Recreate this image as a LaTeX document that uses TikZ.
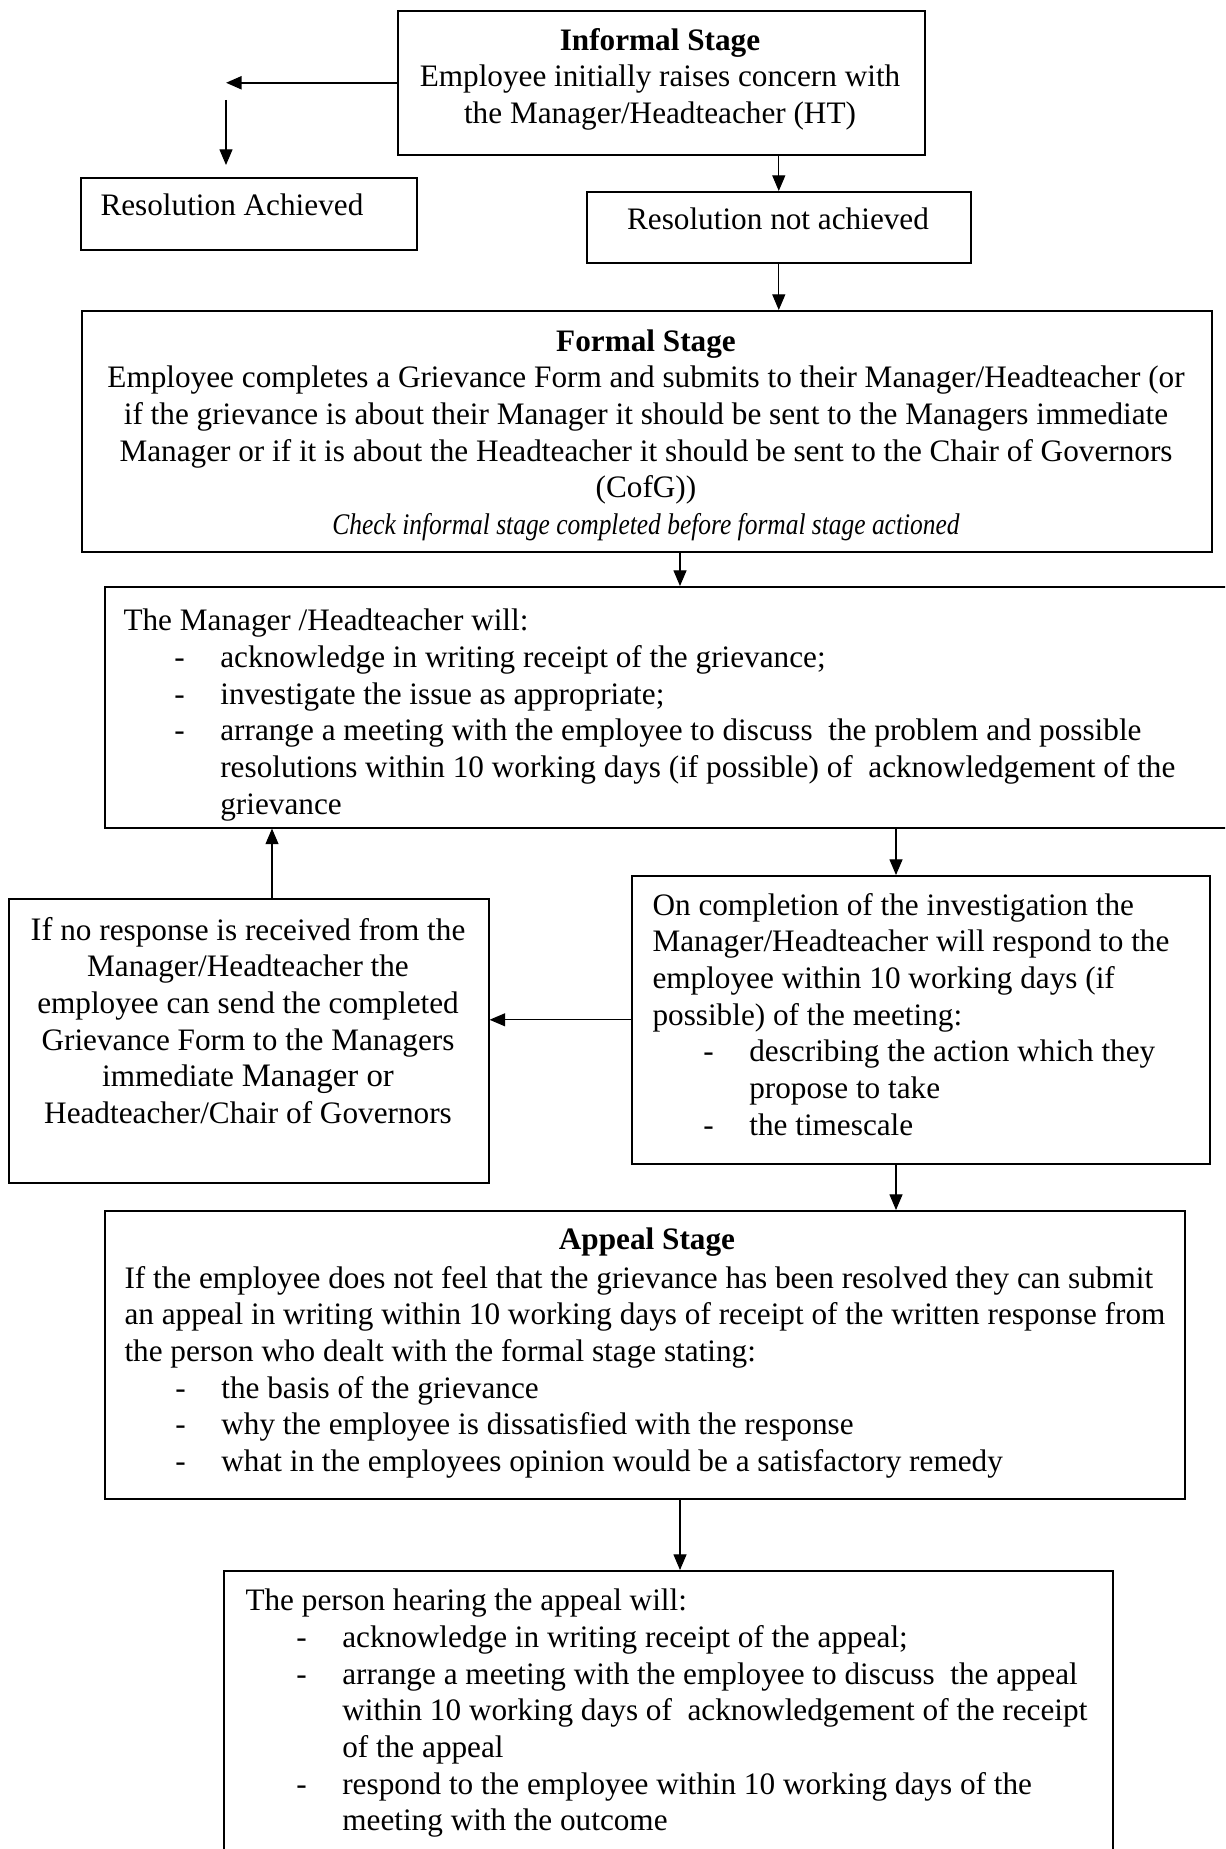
\documentclass[tikz,border=0pt]{standalone}
\usepackage{fontspec}
\usepackage{graphicx}
\setmainfont{Liberation Serif}
\usetikzlibrary{arrows.meta}

\def\pw{0.0135cm}
\newcommand{\dashitem}{\hspace*{19.5pt}\makebox[17.7pt][l]{-}}
\newcommand{\dashcont}{\hspace*{37.2pt}}

\tikzset{
	frame/.style 2 args={draw, line width=0.6pt, inner sep=0pt, anchor=north west,
		minimum width=#1*\pw, minimum height=#2*\pw},
	txt/.style={inner sep=0pt, font=\fontsize{12}{14.1}\selectfont},
	flow/.style={-{Triangle[length=6pt,width=5pt]}, line width=0.4pt},
}

\begin{document}
\begin{tikzpicture}[x=\pw,y=-\pw]
	\fill[white] (0,0) rectangle (1225,1849);
	\useasboundingbox (0,0) rectangle (1225,1849);
	\clip (0,0) rectangle (1225,1849);
	
	% Khung
	\node[frame={527}{144}] (informal) at (397,10) {};
	\node[frame={336}{72}] (resAch) at (80,177) {};
	\node[frame={384}{71}] (resNot) at (586,191) {};
	\node[frame={1130}{241}] (formal) at (81,310) {};
	\node[frame={1152}{241}] (manager) at (104,586) {};
	\node[frame={480}{284}] (noresp) at (8,898) {};
	\node[frame={578}{288}] (complete) at (631,875) {};
	\node[frame={1080}{288}] (appeal) at (104,1210) {};
	\node[frame={889}{330}] (hearing) at (223,1570) {};
	
	% Texts
	\node[txt, align=center, anchor=north] (informalTxt) at (660,27.5)
		{\textbf{Informal Stage}\\Employee initially raises concern with\\the Manager/Headteacher (HT)};
	\node[txt, anchor=west] (resAchTxt) at (100,205) {Resolution Achieved};
	\node[txt] (resNotTxt) at (778,219) {Resolution not achieved};
	\node[txt, align=center, anchor=north] (formalTxt) at (646,329)
		{\textbf{Formal Stage}\\
		Employee completes a Grievance Form and submits to their Manager/Headteacher (or\\
		if the grievance is about their Manager it should be sent to the Managers immediate\\
		Manager or if it is about the Headteacher it should be sent to the Chair of Governors\\
		(CofG))\\
		\scalebox{0.85}[1]{\fontsize{11.5}{14.1}\selectfont\itshape Check informal stage completed before formal stage actioned}};
	\node[txt, align=left, anchor=north west] (managerTxt) at (123,608.5)
		{The Manager /Headteacher will:\\
		\dashitem acknowledge in writing receipt of the grievance;\\
		\dashitem investigate the issue as appropriate;\\
		\dashitem arrange a meeting with the employee to discuss\ \ the problem and possible\\
		\dashcont resolutions within 10 working days (if possible) of\ \ acknowledgement of the\\
		\dashcont grievance};
	\node[txt, align=center, anchor=north] (norespTxt) at (248,916.5)
		{{\fontsize{12.6}{14.1}\selectfont If} no response is received from the\\
		Manager/Headteacher the\\
		employee can send the completed\\
		Grievance Form to the Managers\\
		immediate {\fontsize{12.6}{14.1}\selectfont Manager or}\\
		Headteacher/Chair of Governors};
	\node[txt, align=left, anchor=north west] (completeTxt) at (652,892.5)
		{On completion of the investigation the\\
		Manager/Headteacher will respond to the\\
		employee within 10 working days (if\\
		possible) of the meeting:\\
		\dashitem describing the action which they\\
		\dashcont propose to take\\
		\dashitem the timescale};
	\node[txt, anchor=north] (appealHead) at (647,1227.5) {\textbf{Appeal Stage}};
	\node[txt, align=left, anchor=north west] (appealTxt) at (124,1265.5)
		{If the employee does not feel that the grievance has been resolved they can submit\\
		an appeal in writing within 10 working days of receipt of the written response from\\
		the person who dealt with the formal stage stating:\\
		\dashitem the basis of the grievance\\
		\dashitem why the employee is dissatisfied with the response\\
		\dashitem what in the employees opinion would be a satisfactory remedy};
	\node[txt, align=left, anchor=north west] (hearingTxt) at (245,1588.5)
		{The person hearing the appeal will:\\
		\dashitem acknowledge in writing receipt of the appeal;\\
		\dashitem arrange a meeting with the employee to discuss\ \ the appeal\\
		\dashcont within 10 working days of\ \ acknowledgement of the receipt\\
		\dashcont of the appeal\\
		\dashitem respond to the employee within 10 working days of the\\
		\dashcont meeting with the outcome};
	
	% Diem neo
	\coordinate (achTop) at (226,100);
	\coordinate (achTip) at (226,165);
	\coordinate (midX) at (680,0);
	\coordinate (backX) at (272,0);
	\coordinate (rightX) at (896,0);
	
	% Mui ten
	\draw[flow, line width=0.8pt] (informal.west) -- (informal.west -| achTop);
	\draw[flow] (achTop) -- (achTip);
	\draw[flow] (informal.south -| resNot.north) -- (resNot.north);
	\draw[flow] (resNot.south) -- (resNot.south |- formal.north);
	\draw[flow] (formal.south -| midX) -- (manager.north -| midX);
	\draw[flow] (noresp.north -| backX) -- (manager.south -| backX);
	\draw[flow] (manager.south -| rightX) -- (complete.north -| rightX);
	\draw[flow] (complete.west) -- (noresp.east |- complete.west);
	\draw[flow] (complete.south -| rightX) -- (appeal.north -| rightX);
	\draw[flow] (appeal.south -| midX) -- (hearing.north -| midX);
\end{tikzpicture}
\end{document}
